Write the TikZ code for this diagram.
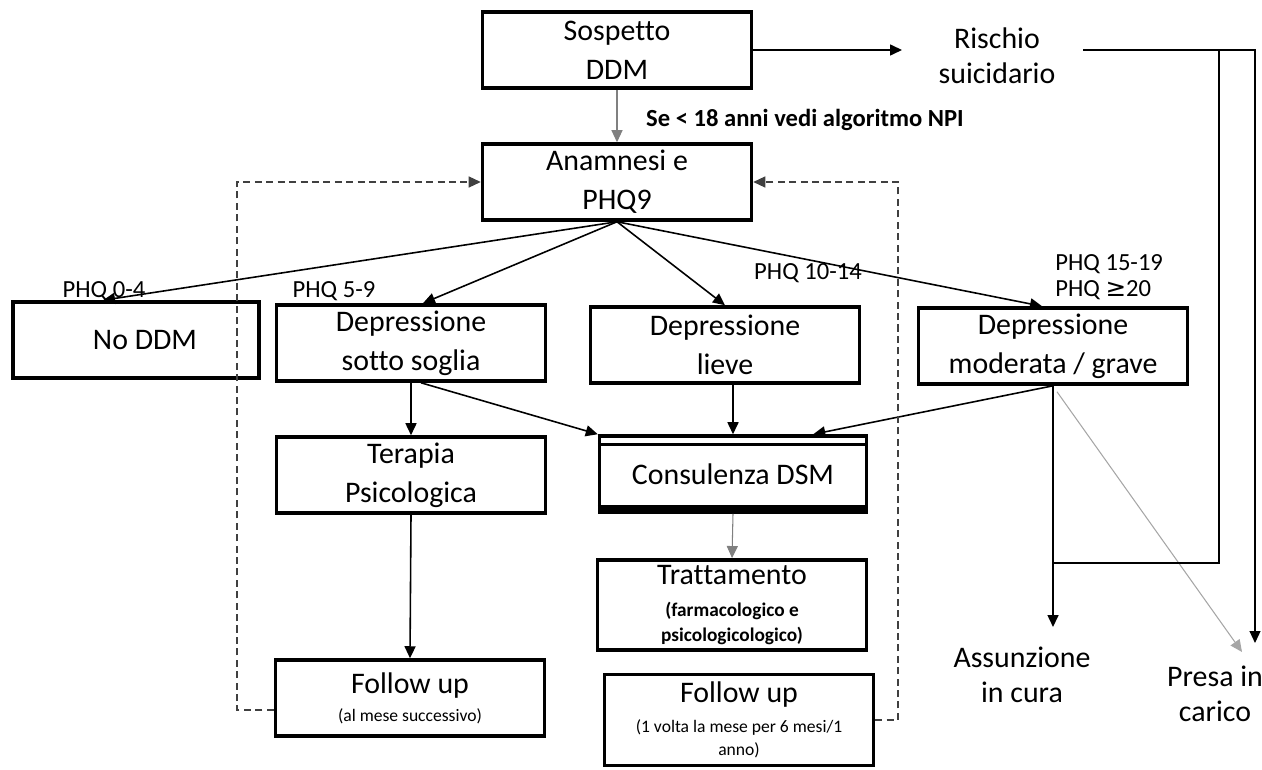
\documentclass[tikz,border=0pt]{standalone}
\usepackage{fontspec}
\setmainfont{Carlito}[Ligatures=NoCommon]
\newfontfamily\geqfont{DejaVu Sans}
\usetikzlibrary{positioning,arrows.meta,calc}
\newcommand{\smalltxt}[1]{{\fontsize{10}{12}\selectfont #1}}

\begin{document}
\begin{tikzpicture}[x=0.2mm, y=-0.2mm,
            >={Triangle[length=2.4mm,width=2.2mm]},
            box/.style={draw, line width=2pt, align=center, minimum width=53.8mm,
              minimum height=15.2mm, font=\fontsize{17}{22}\selectfont},
            lbl/.style={align=center, font=\fontsize{17}{20}\selectfont},
            phq/.style={inner sep=0pt, font=\fontsize{14}{16}\selectfont},
            flow/.style={->, line width=0.9pt},
            back/.style={->, line width=0.7pt, black!75, dash pattern=on 4pt off 2.5pt}
        ]
          \useasboundingbox (0,0) rectangle (1262,769);
          % boxes
          \node[box] (sospetto) at (617,50) {Sospetto\\DDM};
          \node[box] (anamnesi) at (617,182) {Anamnesi e\\PHQ9};
          \node[box, minimum width=49.2mm] (noddm) at (136,340) {\hspace*{3.6mm}No DDM};
          \node[box] (sotto) at (411,343) {Depressione\\sotto soglia};
          \node[box] (lieve) at (725,345) {Depressione\\lieve};
          \node[box] (moderata) at (1053,346) {Depressione\\moderata / grave};
          \node[box] (terapia) at (411,475) {Terapia\\Psicologica};
          \node[box, minimum width=53.4mm] (consulenza) at (733,474) {Consulenza DSM};
          \node[box, minimum height=17mm] (trattamento) at (732,605)
            {Trattamento\\[-4pt]{\bfseries\fontsize{11}{13}\selectfont(farmacologico e}\\[-8pt]
             {\bfseries\fontsize{11}{13}\selectfont psicologicologico)}};
          \node[box] (followa) at (410,698)
            {Follow up\\[-6pt]\smalltxt{(al mese successivo)}};
          \node[box, minimum height=18.2mm] (followb) at (739,720)
            {Follow up\\[-5pt]\smalltxt{(1 volta la mese per 6 mesi/1}\\[-9pt]\smalltxt{anno)}};
          % labels
          \node[lbl] (rischio) at (997,56) {Rischio\\suicidario};
          \node[lbl] (assunzione) at (1022,675) {Assunzione\\in cura};
          \node[lbl] (presa) at (1215,694) {Presa in\\carico};
          \node[anchor=west, font=\bfseries\fontsize{14}{17}\selectfont] (npi) at (640,120)
            {Se < 18 anni vedi algoritmo NPI};
          \node[phq] (phqa) at (104,291) {PHQ 0-4};
          \node[phq] (phqb) at (334,291) {PHQ 5-9};
          \node[phq] (phqc) at (808,273) {PHQ 10-14};
          \node[phq, anchor=west, align=left, font=\fontsize{14}{14.5}\selectfont] (phqd) at (1055,277)
            {PHQ 15-19\\PHQ {\geqfont ≥}20};
          % free ends
          \coordinate (rtip) at (902,50);
          \coordinate (rout) at (1083,50);
          \coordinate (rsplit) at (1219,50);
          \coordinate (rjoin) at (1053,563);
          \coordinate (ptip) at (1255,643);
          \coordinate (atip) at (1053,627);
          \coordinate (gtip) at (1242,652);
          \coordinate (dl) at (237,0);
          \coordinate (dr) at (898,0);
          % connectors
          \path[flow]
          (sospetto) edge (rtip)
          (anamnesi.south) edge ([xshift=-6.6mm]noddm.north)
                           edge ([xshift=2.4mm]sotto.north)
                           edge (lieve.north)
                           edge ([xshift=-2.2mm]moderata.north)
          (sotto.south) edge (terapia.north)
          ([xshift=2mm]sotto.south) edge (consulenza.north west)
          (consulenza.north |- lieve.south) edge (consulenza.north)
          (moderata.south) edge ([xshift=-11mm]consulenza.north east)
                           edge (atip)
          (terapia.south) edge (followa.north)
                ;
          \path[->, gray, line width=0.6pt]
          (sospetto.south) edge (anamnesi.north)
          (consulenza.south) edge (trattamento.north);
          \draw[->, black!35, line width=0.6pt] ([xshift=0.8mm,yshift=-1.2mm]moderata.south) -- (gtip);
          \draw[->, line width=0.6pt] (rout) -| (ptip);
          \draw[line width=0.6pt] (rsplit) |- (rjoin);
          \draw[back] ([yshift=-2.4mm]followa.west) -| (anamnesi.west -| dl) -- (anamnesi.west);
          \draw[back] (followb.east) -| (anamnesi.east -| dr) -- (anamnesi.east);
          % double top and heavy bottom of the DSM box
          \draw[line width=1.5pt] ([yshift=-2mm]consulenza.north west) -- ([yshift=-2mm]consulenza.north east);
          \draw[line width=1.6mm] ([yshift=0.9mm]consulenza.south west) -- ([yshift=0.9mm]consulenza.south east);
        \end{tikzpicture}
\end{document}
